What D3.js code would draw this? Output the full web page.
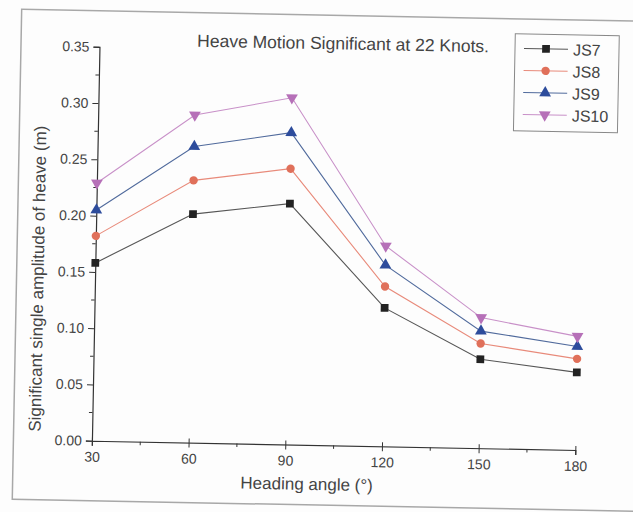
<!DOCTYPE html>
<html><head><meta charset="utf-8">
<script src="https://cdn.jsdelivr.net/npm/d3@7"></script>
<style>
body{margin:0;background:#fdfdfd}
svg{display:block}
text{font-family:"Liberation Sans",Arial,sans-serif}
</style>
</head><body>
<svg id="c" width="633" height="512"></svg>
<script>
const categories = [30, 60, 90, 120, 150, 180];
const xTickValues = [30, 60, 90, 120, 150, 180];
const yTickValues = [0, 0.05, 0.10, 0.15, 0.20, 0.25, 0.30, 0.35];
const seriesNames = ["JS7", "JS8", "JS9", "JS10"];
const js7  = [0.158, 0.203, 0.214, 0.123, 0.079, 0.069];
const js8  = [0.182, 0.233, 0.245, 0.142, 0.093, 0.081];
const js9  = [0.205, 0.263, 0.277, 0.161, 0.104, 0.092];
const js10 = [0.229, 0.291, 0.308, 0.178, 0.116, 0.101];
const titleText = "Heave Motion Significant at 22 Knots.";
const xLabel = "Heading angle (\u00B0)";
const yLabel = "Significant single amplitude of heave (m)";

const seriesValues = [js7, js8, js9, js10];
const colors = ["#222222", "#e0705a", "#2d4c9c", "#b670b8"];
const lineColors = ["#555555", "#e88a7a", "#506a9c", "#c890c8"];
const shapes = [d3.symbolSquare, d3.symbolCircle, d3.symbolTriangle, d3.symbolTriangle];
const shapeSize = [60, 55, 60, 60];
const shapeRot = [0, 0, 0, 180];

const svg = d3.select("#c");
const root = svg.append("g").attr("transform", "rotate(1.1,316,256)");

// page frame
root.append("rect").attr("x", 17).attr("y", 15).attr("width", 650).attr("height", 490)
  .attr("fill", "none").attr("stroke", "#a8a8a8").attr("stroke-width", 1.5);

const L = 95.5, R = 579, T = 51, B = 445;
const x = d3.scaleLinear().domain([30, 180]).range([L, R]);
const y = d3.scaleLinear().domain([0, 0.35]).range([B, T]);

// axes
const xAxis = d3.axisBottom(x).tickValues(xTickValues).tickFormat(d3.format("d")).tickSize(5).tickPadding(6);
const gx = root.append("g").attr("transform", `translate(0,${B})`).call(xAxis);
const xMinor = d3.range(45, 180, 30);
gx.selectAll(".minor").data(xMinor).enter().append("line").attr("class", "minor")
  .attr("x1", d => x(d)).attr("x2", d => x(d)).attr("y1", 0).attr("y2", 3.5);
gx.selectAll(".tick line").attr("y1", -4);

const yAxis = d3.axisLeft(y).tickValues(yTickValues).tickFormat(d3.format(".2f")).tickSize(6).tickPadding(4);
const gy = root.append("g").attr("transform", `translate(${L},0)`).call(yAxis);
const yMinor = d3.range(0.025, 0.35, 0.05);
gy.selectAll(".minor").data(yMinor).enter().append("line").attr("class", "minor")
  .attr("x1", 0).attr("x2", -3.5).attr("y1", d => y(d)).attr("y2", d => y(d));

root.selectAll(".domain").attr("stroke", "#333").attr("stroke-width", 1.2);
root.selectAll(".tick line, .minor").attr("stroke", "#333").attr("stroke-width", 1);
root.selectAll(".tick text").attr("font-size", 14).attr("fill", "#444")
  .attr("font-family", "'Liberation Sans',Arial,sans-serif");

// series
const line = d3.line().x((d, i) => x(categories[i])).y(d => y(d));
seriesValues.forEach((vals, s) => {
  root.append("path").datum(vals).attr("d", line).attr("fill", "none")
    .attr("stroke", lineColors[s]).attr("stroke-width", 1.1);
});
seriesValues.forEach((vals, s) => {
  root.selectAll(null).data(vals).enter().append("path")
    .attr("d", d3.symbol().type(shapes[s]).size(shapeSize[s]))
    .attr("transform", (d, i) => `translate(${x(categories[i])},${y(d)}) rotate(${shapeRot[s]})`)
    .attr("fill", colors[s]);
});

// title and labels
root.append("text").attr("x", 339).attr("y", 49).attr("text-anchor", "middle")
  .attr("font-size", 17.5).attr("fill", "#444").text(titleText);
root.append("text").attr("x", 311).attr("y", 490).attr("text-anchor", "middle")
  .attr("font-size", 17).attr("fill", "#444").text(xLabel);
root.append("text").attr("transform", "translate(44,284) rotate(-90)").attr("text-anchor", "middle")
  .attr("font-size", 17).attr("fill", "#444").text(yLabel);

// legend
const lg = root.append("g");
lg.append("rect").attr("x", 511).attr("y", 30).attr("width", 104).attr("height", 97)
  .attr("fill", "none").attr("stroke", "#888").attr("stroke-width", 1);
seriesNames.forEach((name, s) => {
  const ly = 44.5 + s * 22;
  lg.append("line").attr("x1", 520).attr("x2", 564).attr("y1", ly).attr("y2", ly)
    .attr("stroke", lineColors[s]).attr("stroke-width", 1.1);
  lg.append("path").attr("d", d3.symbol().type(shapes[s]).size(shapeSize[s]))
    .attr("transform", `translate(542,${ly}) rotate(${shapeRot[s]})`).attr("fill", colors[s]);
  lg.append("text").attr("x", 569).attr("y", ly + 6).attr("font-size", 16).attr("fill", "#444").text(name);
});
</script>
</body></html>
